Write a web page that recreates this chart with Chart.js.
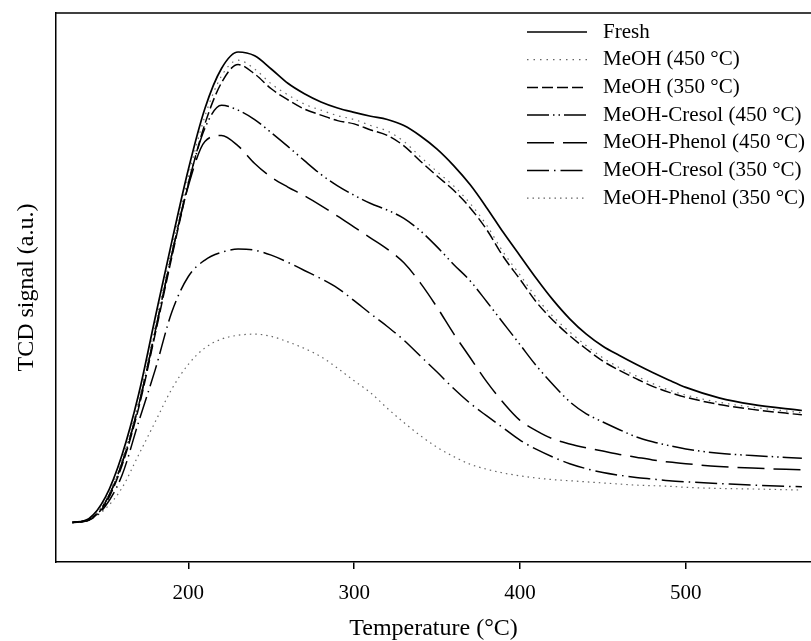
<!DOCTYPE html>
<html>
<head>
<meta charset="utf-8">
<script src="https://cdn.jsdelivr.net/npm/chart.js@4.4.1/dist/chart.umd.min.js"></script>
<style>
  html, body { margin: 0; padding: 0; background: #fff; }
  #wrap { width: 811px; height: 641px; }
</style>
</head>
<body>
<div id="wrap"><canvas id="tpd" width="811" height="641"></canvas></div>
<script>
// temperature (°C)
const temps = [130,140,150,160,170,180,190,200,210,220,230,240,250,260,270,280,290,300,310,320,330,340,350,360,370,380,390,400,410,420,430,440,450,460,470,480,490,500,520,540,570];

// TCD signal (a.u.)
const fresh     = [7.2,7.9,11.8,19.5,30.5,44.5,58.3,71.5,82.6,89.9,92.9,92.2,89.8,87.2,85.3,83.8,82.7,81.9,81.2,80.6,79.5,77.6,75.2,72.2,68.7,64.5,60.0,55.8,51.6,47.7,44.3,41.5,39.3,37.6,36.0,34.5,33.1,31.8,29.9,28.7,27.6];
const meoh450   = [7.2,7.8,11.2,18.6,29.3,43.0,57.0,70.2,81.2,88.5,91.4,89.8,87.1,85.1,83.4,82.3,81.3,80.6,79.5,78.5,76.6,73.8,71.1,68.5,65.3,61.3,56.4,52.3,48.1,44.7,41.9,39.4,37.2,35.4,33.9,32.5,31.3,30.4,29.1,28.2,27.2];
const meoh350   = [7.2,7.7,10.6,17.6,28.0,41.5,55.5,68.8,79.8,87.3,90.6,88.9,86.2,84.2,82.5,81.4,80.4,79.8,78.7,77.7,75.8,73.0,70.3,67.7,64.5,60.5,55.6,51.5,47.3,44.0,41.2,38.8,36.6,34.9,33.4,32.0,30.9,30.0,28.7,27.8,26.8];
const cresol450 = [7.2,7.7,10.9,18.0,28.5,42.0,56.0,69.0,79.0,83.2,82.3,80.6,78.2,75.7,73.1,70.6,68.5,66.8,65.3,64.1,62.6,60.3,57.4,54.2,51.2,47.4,43.5,39.6,35.7,32.3,29.2,27.0,25.5,24.1,22.8,21.9,21.2,20.6,19.8,19.4,18.9];
const phenol450 = [7.2,7.7,10.9,18.0,28.5,42.0,56.0,68.5,76.6,77.7,75.8,72.6,70.1,68.3,66.7,64.9,63.0,61.0,59.0,57.0,54.5,50.8,46.4,41.6,37.2,32.8,29.0,25.8,23.9,22.4,21.5,20.8,20.2,19.6,19.1,18.6,18.2,17.9,17.4,17.1,16.8];
const cresol350 = [7.2,7.6,10.2,15.8,25.5,35.0,45.5,52.0,55.0,56.4,57.0,56.8,55.9,54.6,53.1,51.6,49.9,47.6,45.2,42.9,40.4,37.5,34.6,31.6,28.9,26.6,24.4,22.2,20.5,19.1,17.9,17.0,16.3,15.8,15.4,15.1,14.8,14.6,14.3,14.0,13.7];
const phenol350 = [7.2,7.7,9.7,13.5,19.5,25.5,31.5,36.0,39.0,40.6,41.3,41.5,41.1,40.1,38.9,37.4,35.3,33.0,30.8,28.0,25.4,23.0,20.9,19.2,17.8,16.9,16.2,15.7,15.3,15.0,14.8,14.6,14.4,14.2,14.0,13.9,13.8,13.6,13.4,13.3,13.1];

const labels = ["Fresh", "MeOH (450 °C)", "MeOH (350 °C)", "MeOH-Cresol (450 °C)", "MeOH-Phenol (450 °C)", "MeOH-Cresol (350 °C)", "MeOH-Phenol (350 °C)"];
const xTicks = [200, 300, 400, 500];

const serif = "'Liberation Serif', 'DejaVu Serif', serif";

function series(label, data, color, width, dash) {
    return {
        label: label,
        data: temps.map((t, i) => ({ x: t, y: data[i] })),
        borderColor: color,
        borderWidth: width,
        borderDash: dash,
        pointRadius: 0,
        fill: false,
        cubicInterpolationMode: 'monotone'
    };
}

// frame top line + in-plot legend
const extras = {
    id: 'extras',
    afterDatasetsDraw(chart) {
        const { ctx, chartArea } = chart;
        ctx.save();
        ctx.strokeStyle = '#000';
        ctx.lineWidth = 1.5;
        ctx.setLineDash([]);
        ctx.beginPath();
        ctx.moveTo(chartArea.left, chartArea.top);
        ctx.lineTo(chartArea.right, chartArea.top);
        ctx.stroke();

        ctx.font = "21px " + serif;
        ctx.textBaseline = 'middle';
        ctx.fillStyle = '#000';
        chart.data.datasets.forEach((ds, i) => {
            const y = 32 + i * 27.7;
            ctx.strokeStyle = ds.borderColor;
            ctx.lineWidth = ds.borderWidth;
            ctx.setLineDash(ds.borderDash || []);
            ctx.beginPath();
            ctx.moveTo(527, y);
            ctx.lineTo(587, y);
            ctx.stroke();
            ctx.fillText(ds.label, 603, y);
        });
        ctx.restore();
    }
};

new Chart(document.getElementById('tpd'), {
    type: 'line',
    data: {
        datasets: [
            series(labels[0], fresh,     '#000', 1.7, []),
            series(labels[1], meoh450,   '#666', 1.2, [1.5, 5]),
            series(labels[2], meoh350,   '#000', 1.5, [11, 4]),
            series(labels[3], cresol450, '#000', 1.5, [22, 4, 1.5, 4, 1.5, 4]),
            series(labels[4], phenol450, '#000', 1.5, [27, 9]),
            series(labels[5], cresol350, '#000', 1.5, [22, 5, 1.5, 5]),
            series(labels[6], phenol350, '#666', 1.2, [1.5, 4])
        ]
    },
    options: {
        responsive: false,
        animation: false,
        devicePixelRatio: 1,
        layout: { padding: { top: 13, right: 0, bottom: 0, left: 0 } },
        plugins: { legend: { display: false }, tooltip: { enabled: false } },
        scales: {
            x: {
                type: 'linear',
                min: 120.2,
                max: 575.5,
                afterBuildTicks: axis => { axis.ticks = xTicks.map(v => ({ value: v })); },
                afterFit: axis => { axis.height = 79; },
                ticks: { color: '#000', font: { family: serif, size: 21 }, padding: 12, maxRotation: 0 },
                grid: { display: true, drawOnChartArea: false, drawTicks: true, tickLength: 7, color: '#000', lineWidth: 1.5 },
                border: { display: true, color: '#000', width: 1.5 },
                title: { display: true, text: 'Temperature (°C)', color: '#000', font: { family: serif, size: 24, lineHeight: 1 }, padding: { top: 0, bottom: 0 } }
            },
            y: {
                min: 0,
                max: 100,
                afterFit: axis => { axis.width = 56; },
                ticks: { display: false },
                grid: { display: true, drawOnChartArea: false, drawTicks: false },
                border: { display: true, color: '#000', width: 1.5 },
                title: { display: true, text: 'TCD signal (a.u.)', color: '#000', font: { family: serif, size: 24, lineHeight: 1.2 }, padding: { top: 12, bottom: 0 } }
            }
        }
    },
    plugins: [extras]
});
</script>
</body>
</html>
